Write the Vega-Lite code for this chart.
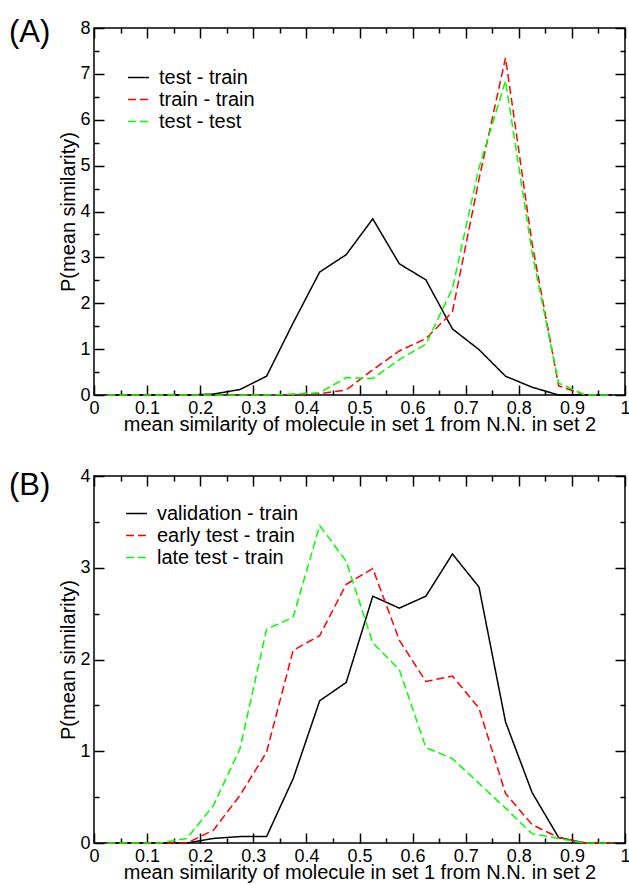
{
  "$schema": "https://vega.github.io/schema/vega-lite/v6.json",
  "padding": {"left": 8, "top": 16, "right": 0, "bottom": 0},
  "spacing": 31,
  "config": {
    "font": "Liberation Sans",
    "view": {"stroke": "black", "strokeWidth": 1.5},
    "axis": {"grid": false, "domain": false, "labelColor": "black", "titleColor": "black", "tickColor": "black", "tickWidth": 1.5, "labelFont": "Liberation Sans", "titleFont": "Liberation Sans", "titleFontWeight": "normal", "labelFontSize": 18, "titleFontSize": 20, "labelOverlap": false, "labelFlush": false, "labelBound": false},
    "title": {"font": "Liberation Sans", "fontWeight": "normal", "fontSize": 31, "color": "black"},
    "legend": {"orient": "none", "symbolType": "stroke", "symbolSize": 441, "symbolStrokeWidth": 1.5, "labelFontSize": 20, "labelFont": "Liberation Sans", "labelColor": "black", "labelOffset": 9, "rowPadding": 0, "padding": 0, "title": null}
  },
  "datasets": {
    "a": [
      {"s": "test - train", "x": 0.025, "y": 0}, {"s": "test - train", "x": 0.075, "y": 0}, {"s": "test - train", "x": 0.125, "y": 0}, {"s": "test - train", "x": 0.175, "y": 0}, {"s": "test - train", "x": 0.225, "y": 0.02}, {"s": "test - train", "x": 0.275, "y": 0.12}, {"s": "test - train", "x": 0.325, "y": 0.41}, {"s": "test - train", "x": 0.375, "y": 1.57}, {"s": "test - train", "x": 0.425, "y": 2.68}, {"s": "test - train", "x": 0.475, "y": 3.06}, {"s": "test - train", "x": 0.525, "y": 3.84}, {"s": "test - train", "x": 0.575, "y": 2.86}, {"s": "test - train", "x": 0.625, "y": 2.51}, {"s": "test - train", "x": 0.675, "y": 1.44}, {"s": "test - train", "x": 0.725, "y": 0.99}, {"s": "test - train", "x": 0.775, "y": 0.41}, {"s": "test - train", "x": 0.825, "y": 0.17}, {"s": "test - train", "x": 0.875, "y": 0}, {"s": "test - train", "x": 0.925, "y": 0}, {"s": "test - train", "x": 0.975, "y": 0},
      {"s": "train - train", "x": 0.025, "y": 0}, {"s": "train - train", "x": 0.075, "y": 0}, {"s": "train - train", "x": 0.125, "y": 0}, {"s": "train - train", "x": 0.175, "y": 0}, {"s": "train - train", "x": 0.225, "y": 0}, {"s": "train - train", "x": 0.275, "y": 0}, {"s": "train - train", "x": 0.325, "y": 0}, {"s": "train - train", "x": 0.375, "y": 0.01}, {"s": "train - train", "x": 0.425, "y": 0.03}, {"s": "train - train", "x": 0.475, "y": 0.11}, {"s": "train - train", "x": 0.525, "y": 0.55}, {"s": "train - train", "x": 0.575, "y": 0.96}, {"s": "train - train", "x": 0.625, "y": 1.23}, {"s": "train - train", "x": 0.675, "y": 1.81}, {"s": "train - train", "x": 0.725, "y": 4.7}, {"s": "train - train", "x": 0.775, "y": 7.35}, {"s": "train - train", "x": 0.825, "y": 3.3}, {"s": "train - train", "x": 0.875, "y": 0.2}, {"s": "train - train", "x": 0.925, "y": 0}, {"s": "train - train", "x": 0.975, "y": 0},
      {"s": "test - test", "x": 0.025, "y": 0}, {"s": "test - test", "x": 0.075, "y": 0}, {"s": "test - test", "x": 0.125, "y": 0}, {"s": "test - test", "x": 0.175, "y": 0}, {"s": "test - test", "x": 0.225, "y": 0}, {"s": "test - test", "x": 0.275, "y": 0}, {"s": "test - test", "x": 0.325, "y": 0}, {"s": "test - test", "x": 0.375, "y": 0.02}, {"s": "test - test", "x": 0.425, "y": 0.05}, {"s": "test - test", "x": 0.475, "y": 0.38}, {"s": "test - test", "x": 0.525, "y": 0.36}, {"s": "test - test", "x": 0.575, "y": 0.77}, {"s": "test - test", "x": 0.625, "y": 1.11}, {"s": "test - test", "x": 0.675, "y": 2.32}, {"s": "test - test", "x": 0.725, "y": 4.95}, {"s": "test - test", "x": 0.775, "y": 6.85}, {"s": "test - test", "x": 0.825, "y": 3.1}, {"s": "test - test", "x": 0.875, "y": 0.26}, {"s": "test - test", "x": 0.925, "y": 0}, {"s": "test - test", "x": 0.975, "y": 0}
    ],
    "b": [
      {"s": "validation - train", "x": 0.025, "y": 0}, {"s": "validation - train", "x": 0.075, "y": 0}, {"s": "validation - train", "x": 0.125, "y": 0}, {"s": "validation - train", "x": 0.175, "y": 0}, {"s": "validation - train", "x": 0.225, "y": 0.05}, {"s": "validation - train", "x": 0.275, "y": 0.07}, {"s": "validation - train", "x": 0.325, "y": 0.07}, {"s": "validation - train", "x": 0.375, "y": 0.7}, {"s": "validation - train", "x": 0.425, "y": 1.55}, {"s": "validation - train", "x": 0.475, "y": 1.75}, {"s": "validation - train", "x": 0.525, "y": 2.69}, {"s": "validation - train", "x": 0.575, "y": 2.56}, {"s": "validation - train", "x": 0.625, "y": 2.69}, {"s": "validation - train", "x": 0.675, "y": 3.15}, {"s": "validation - train", "x": 0.725, "y": 2.79}, {"s": "validation - train", "x": 0.775, "y": 1.32}, {"s": "validation - train", "x": 0.825, "y": 0.55}, {"s": "validation - train", "x": 0.875, "y": 0.06}, {"s": "validation - train", "x": 0.925, "y": 0}, {"s": "validation - train", "x": 0.975, "y": 0},
      {"s": "early test - train", "x": 0.025, "y": 0}, {"s": "early test - train", "x": 0.075, "y": 0}, {"s": "early test - train", "x": 0.125, "y": 0}, {"s": "early test - train", "x": 0.175, "y": 0}, {"s": "early test - train", "x": 0.225, "y": 0.14}, {"s": "early test - train", "x": 0.275, "y": 0.52}, {"s": "early test - train", "x": 0.325, "y": 0.99}, {"s": "early test - train", "x": 0.375, "y": 2.1}, {"s": "early test - train", "x": 0.425, "y": 2.26}, {"s": "early test - train", "x": 0.475, "y": 2.82}, {"s": "early test - train", "x": 0.525, "y": 2.99}, {"s": "early test - train", "x": 0.575, "y": 2.21}, {"s": "early test - train", "x": 0.625, "y": 1.76}, {"s": "early test - train", "x": 0.675, "y": 1.82}, {"s": "early test - train", "x": 0.725, "y": 1.47}, {"s": "early test - train", "x": 0.775, "y": 0.54}, {"s": "early test - train", "x": 0.825, "y": 0.2}, {"s": "early test - train", "x": 0.875, "y": 0.06}, {"s": "early test - train", "x": 0.925, "y": 0}, {"s": "early test - train", "x": 0.975, "y": 0},
      {"s": "late test - train", "x": 0.025, "y": 0}, {"s": "late test - train", "x": 0.075, "y": 0}, {"s": "late test - train", "x": 0.125, "y": 0}, {"s": "late test - train", "x": 0.175, "y": 0.05}, {"s": "late test - train", "x": 0.225, "y": 0.41}, {"s": "late test - train", "x": 0.275, "y": 1.03}, {"s": "late test - train", "x": 0.325, "y": 2.33}, {"s": "late test - train", "x": 0.375, "y": 2.46}, {"s": "late test - train", "x": 0.425, "y": 3.46}, {"s": "late test - train", "x": 0.475, "y": 3.07}, {"s": "late test - train", "x": 0.525, "y": 2.18}, {"s": "late test - train", "x": 0.575, "y": 1.89}, {"s": "late test - train", "x": 0.625, "y": 1.04}, {"s": "late test - train", "x": 0.675, "y": 0.92}, {"s": "late test - train", "x": 0.725, "y": 0.65}, {"s": "late test - train", "x": 0.775, "y": 0.38}, {"s": "late test - train", "x": 0.825, "y": 0.1}, {"s": "late test - train", "x": 0.875, "y": 0.05}, {"s": "late test - train", "x": 0.925, "y": 0}, {"s": "late test - train", "x": 0.975, "y": 0}
    ]
  },
  "vconcat": [
    {
      "title": {"text": "(A)", "anchor": "start", "frame": "group", "offset": -28, "dx": -85, "dy": 17, "baseline": "middle"},
      "width": 531,
      "height": 367,
      "data": {"name": "a"},
      "layer": [
        {
          "mark": {"type": "line", "strokeWidth": 1.5},
          "encoding": {
            "x": {"field": "x", "type": "quantitative", "scale": {"domain": [0, 1], "nice": false, "zero": false}, "axis": {"orient": "bottom", "values": [0, 0.1, 0.2, 0.3, 0.4, 0.5, 0.6, 0.7, 0.8, 0.9, 1], "format": ".1~f", "tickSize": -10, "labelPadding": 14, "title": "mean similarity of molecule in set 1 from N.N. in set 2", "titlePadding": -3}},
            "y": {"field": "y", "type": "quantitative", "scale": {"domain": [0, 8], "nice": false}, "axis": {"orient": "left", "values": [0, 1, 2, 3, 4, 5, 6, 7, 8], "format": "d", "tickSize": -10, "labelPadding": 14, "title": "P(mean similarity)", "titlePadding": 1}},
            "color": {"field": "s", "type": "nominal", "scale": {"domain": ["test - train", "train - train", "test - test"], "range": ["#000000", "#ff0000", "#00ff00"]}, "legend": {"orient": "none", "legendX": 33, "legendY": 38, "title": null}},
            "strokeDash": {"field": "s", "type": "nominal", "scale": {"domain": ["test - train", "train - train", "test - test"], "range": [[1, 0], [8, 4], [8, 4]]}, "legend": {"orient": "none", "legendX": 33, "legendY": 38, "title": null}}
          }
        },
        {
          "mark": {"type": "point", "opacity": 0},
          "encoding": {
            "x": {"field": "x", "type": "quantitative", "scale": {"domain": [0, 1], "nice": false, "zero": false}, "axis": {"orient": "bottom", "values": [0.05, 0.15, 0.25, 0.35, 0.45, 0.55, 0.65, 0.75, 0.85, 0.95], "tickSize": -5, "labels": false, "title": null}},
            "y": {"field": "y", "type": "quantitative", "scale": {"domain": [0, 8], "nice": false}, "axis": {"orient": "left", "values": [0.5, 1.5, 2.5, 3.5, 4.5, 5.5, 6.5, 7.5], "tickSize": -5, "labels": false, "title": null}}
          }
        },
        {
          "mark": {"type": "point", "opacity": 0},
          "encoding": {
            "x": {"field": "x", "type": "quantitative", "scale": {"domain": [0, 1], "nice": false, "zero": false}, "axis": {"orient": "top", "values": [0, 0.1, 0.2, 0.3, 0.4, 0.5, 0.6, 0.7, 0.8, 0.9, 1], "tickSize": -10, "labels": false, "title": null}},
            "y": {"field": "y", "type": "quantitative", "scale": {"domain": [0, 8], "nice": false}, "axis": {"orient": "right", "values": [0, 1, 2, 3, 4, 5, 6, 7, 8], "tickSize": -10, "labels": false, "title": null}}
          }
        },
        {
          "mark": {"type": "point", "opacity": 0},
          "encoding": {
            "x": {"field": "x", "type": "quantitative", "scale": {"domain": [0, 1], "nice": false, "zero": false}, "axis": {"orient": "top", "values": [0.05, 0.15, 0.25, 0.35, 0.45, 0.55, 0.65, 0.75, 0.85, 0.95], "tickSize": -5, "labels": false, "title": null}},
            "y": {"field": "y", "type": "quantitative", "scale": {"domain": [0, 8], "nice": false}, "axis": {"orient": "right", "values": [0.5, 1.5, 2.5, 3.5, 4.5, 5.5, 6.5, 7.5], "tickSize": -5, "labels": false, "title": null}}
          }
        }
      ],
      "resolve": {"axis": {"x": "independent", "y": "independent"}}
    },
    {
      "title": {"text": "(B)", "anchor": "start", "frame": "group", "offset": -28, "dx": -85, "dy": 22, "baseline": "middle"},
      "width": 531,
      "height": 367,
      "data": {"name": "b"},
      "layer": [
        {
          "mark": {"type": "line", "strokeWidth": 1.5},
          "encoding": {
            "x": {"field": "x", "type": "quantitative", "scale": {"domain": [0, 1], "nice": false, "zero": false}, "axis": {"orient": "bottom", "values": [0, 0.1, 0.2, 0.3, 0.4, 0.5, 0.6, 0.7, 0.8, 0.9, 1], "format": ".1~f", "tickSize": -10, "labelPadding": 14, "title": "mean similarity of molecule in set 1 from N.N. in set 2", "titlePadding": -3}},
            "y": {"field": "y", "type": "quantitative", "scale": {"domain": [0, 4], "nice": false}, "axis": {"orient": "left", "values": [0, 1, 2, 3, 4], "format": "d", "tickSize": -10, "labelPadding": 14, "title": "P(mean similarity)", "titlePadding": 1}},
            "color": {"field": "s", "type": "nominal", "scale": {"domain": ["validation - train", "early test - train", "late test - train"], "range": ["#000000", "#ff0000", "#00ff00"]}, "legend": {"orient": "none", "legendX": 31, "legendY": 26, "title": null}},
            "strokeDash": {"field": "s", "type": "nominal", "scale": {"domain": ["validation - train", "early test - train", "late test - train"], "range": [[1, 0], [8, 4], [8, 4]]}, "legend": {"orient": "none", "legendX": 31, "legendY": 26, "title": null}}
          }
        },
        {
          "mark": {"type": "point", "opacity": 0},
          "encoding": {
            "x": {"field": "x", "type": "quantitative", "scale": {"domain": [0, 1], "nice": false, "zero": false}, "axis": {"orient": "bottom", "values": [0.05, 0.15, 0.25, 0.35, 0.45, 0.55, 0.65, 0.75, 0.85, 0.95], "tickSize": -5, "labels": false, "title": null}},
            "y": {"field": "y", "type": "quantitative", "scale": {"domain": [0, 4], "nice": false}, "axis": {"orient": "left", "values": [0.5, 1.5, 2.5, 3.5], "tickSize": -5, "labels": false, "title": null}}
          }
        },
        {
          "mark": {"type": "point", "opacity": 0},
          "encoding": {
            "x": {"field": "x", "type": "quantitative", "scale": {"domain": [0, 1], "nice": false, "zero": false}, "axis": {"orient": "top", "values": [0, 0.1, 0.2, 0.3, 0.4, 0.5, 0.6, 0.7, 0.8, 0.9, 1], "tickSize": -10, "labels": false, "title": null}},
            "y": {"field": "y", "type": "quantitative", "scale": {"domain": [0, 4], "nice": false}, "axis": {"orient": "right", "values": [0, 1, 2, 3, 4], "tickSize": -10, "labels": false, "title": null}}
          }
        },
        {
          "mark": {"type": "point", "opacity": 0},
          "encoding": {
            "x": {"field": "x", "type": "quantitative", "scale": {"domain": [0, 1], "nice": false, "zero": false}, "axis": {"orient": "top", "values": [0.05, 0.15, 0.25, 0.35, 0.45, 0.55, 0.65, 0.75, 0.85, 0.95], "tickSize": -5, "labels": false, "title": null}},
            "y": {"field": "y", "type": "quantitative", "scale": {"domain": [0, 4], "nice": false}, "axis": {"orient": "right", "values": [0.5, 1.5, 2.5, 3.5], "tickSize": -5, "labels": false, "title": null}}
          }
        }
      ],
      "resolve": {"axis": {"x": "independent", "y": "independent"}}
    }
  ],
  "resolve": {"scale": {"color": "independent", "strokeDash": "independent"}}
}
